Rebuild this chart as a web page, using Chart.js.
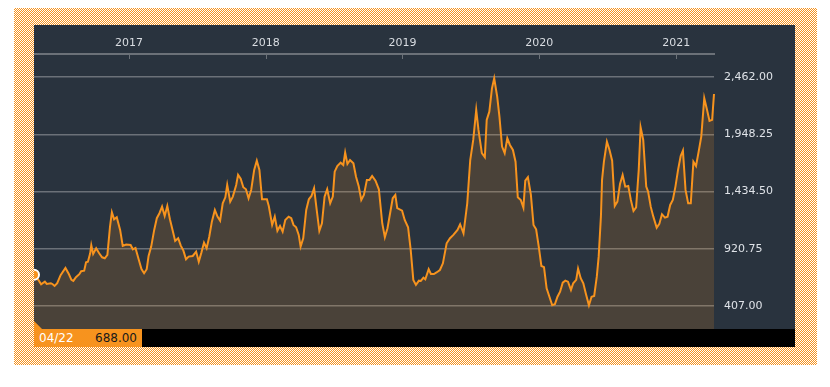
<!DOCTYPE html>
<html>
<head>
<meta charset="utf-8">
<script src="https://cdn.jsdelivr.net/npm/chart.js@4.4.1/dist/chart.umd.min.js"></script>
<style>
  html, body { margin: 0; padding: 0; background: #fff; }
  #frame {
    position: absolute; left: 14px; top: 8px; width: 803px; height: 357px;
    background: repeating-conic-gradient(#f7931e 0 25%, #fff 0 50%) 0 0 / 2px 2px;
  }
  #panel { position: absolute; left: 20px; top: 17px; width: 761px; height: 322px; background: #29333e; }
  #panel canvas { position: absolute; left: 0; top: 0; }
  #corner {
    position: absolute; left: 0; top: 296px; width: 0; height: 0;
    border-left: 8px solid #f7931e; border-top: 8px solid transparent;
  }
  #bar { position: absolute; left: 0; top: 304px; width: 761px; height: 18px; background: #000; }
  #quote {
    position: absolute; left: 0; top: 0; width: 108px; height: 18px; background: #f7931e;
    font: 12px "DejaVu Sans", sans-serif; line-height: 18px;
  }
  #quote .d { position: absolute; left: 5px; color: #fff; }
  #quote .v { position: absolute; right: 5px; color: #1a1a1a; }
</style>
</head>
<body>
<div id="frame">
  <div id="panel">
    <canvas id="chart" width="761" height="304"></canvas>
    <div id="corner"></div>
    <div id="bar"><div id="quote"><span class="d" id="qd"></span><span class="v" id="qv"></span></div></div>
  </div>
</div>
<script>
// weekly closes, days counted from the first quote
const startDate = "2016-04-22";
const days = [0,13,19,29,34,45,50,55,62,71,84,93,100,105,112,121,126,134,139,144,
  150,153,158,166,174,182,189,196,203,208,214,221,230,237,246,258,264,271,280,287,
  294,301,306,313,321,328,335,342,349,356,363,370,377,385,392,399,406,413,424,433,
  440,447,454,461,468,475,483,490,497,504,511,516,524,531,540,545,552,559,566,573,
  580,588,595,602,609,622,627,636,643,650,657,664,671,680,687,693,700,707,712,719,
  727,734,741,748,755,762,769,776,783,791,798,803,810,819,826,831,837,844,853,860,
  867,874,881,889,896,903,912,921,930,937,944,951,958,965,970,983,990,999,1006,1013,
  1020,1028,1033,1040,1045,1054,1060,1068,1076,1084,1092,1102,1111,1120,1131,1138,1147,1157,1165,1173,
  1181,1187,1196,1204,1209,1216,1223,1229,1237,1243,1250,1257,1264,1271,1279,1286,1292,1300,1307,1312,
  1319,1327,1334,1341,1348,1355,1362,1369,1384,1391,1398,1405,1412,1419,1426,1434,1440,1448,1453,1460,
  1467,1474,1482,1489,1496,1503,1508,1514,1517,1522,1530,1537,1544,1551,1558,1565,1572,1579,1587,1594,
  1601,1608,1615,1620,1627,1635,1640,1647,1654,1663,1670,1677,1685,1692,1699,1706,1713,1720,1727,1733,
  1740,1747,1754,1761,1768,1775,1782,1790,1797,1804,1811,1816];
const prices = [688,634,602,625,605,611,602,587,611,683,748,694,641,632,665,692,719,724,800,805,
  880,952,874,925,880,844,835,865,1119,1249,1186,1204,1090,946,958,955,916,928,820,739,
  701,737,856,940,1090,1195,1240,1299,1215,1305,1186,1090,991,1015,949,904,826,850,856,895,
  805,886,976,925,1029,1164,1269,1209,1173,1329,1383,1494,1344,1389,1494,1584,1550,1473,1455,1374,
  1449,1629,1712,1629,1365,1365,1305,1135,1209,1083,1126,1074,1179,1209,1195,1135,1114,1045,940,1015,
  1269,1365,1395,1464,1269,1081,1150,1389,1455,1329,1389,1613,1664,1694,1673,1784,1682,1718,1689,1568,
  1485,1359,1404,1539,1539,1575,1532,1455,1150,1024,1105,1240,1374,1404,1285,1263,1179,1114,910,641,
  596,634,632,661,647,737,694,694,710,730,790,970,1015,1045,1090,1141,1060,1329,1718,1898,
  2167,1988,1779,1743,2078,2152,2362,2452,2287,2107,1838,1779,1913,1853,1808,1703,1383,1359,1290,1532,
  1563,1404,1135,1096,940,766,755,566,413,422,490,535,616,634,625,551,611,641,742,656,
  611,515,413,490,497,670,850,1209,1539,1703,1883,1808,1712,1305,1344,1503,1584,1479,1485,1359,
  1260,1293,1629,2012,1898,1479,1434,1299,1209,1110,1144,1231,1200,1209,1314,1359,1479,1629,1754,1802,
  1449,1329,1329,1703,1664,1793,1928,2273,2174,2069,2078,2311];
const yearTicks = [2017, 2018, 2019, 2020, 2021];
const priceTicks = [407, 920.75, 1434.5, 1948.25, 2462];
const priceMin = 200;
const priceMax = 2670;
const quoteLabel = "04/22";
const quoteValue = 688;

const orange = "#f7931e";
const gridGray = "#6b7178";

const dayOffset = (year) => (Date.UTC(year, 0, 1) - Date.parse(startDate)) / 864e5;
const fmt = (v) => v.toLocaleString("en-US", { minimumFractionDigits: 2, maximumFractionDigits: 2 });

document.getElementById("qd").textContent = quoteLabel;
document.getElementById("qv").textContent = fmt(quoteValue);

Chart.defaults.font.family = "'DejaVu Sans', sans-serif";

// no extra room around the plot: it runs to the canvas edges
const noPad = (s) => {
  s.paddingLeft = 0;
  s.paddingRight = 0;
  s.paddingTop = 0;
  s.paddingBottom = 0;
};

// little tick marks hanging under the top axis line
const yearMarks = {
  id: "yearMarks",
  afterDraw(chart) {
    const { ctx, chartArea, scales } = chart;
    ctx.save();
    ctx.strokeStyle = gridGray;
    ctx.lineWidth = 1;
    scales.x.ticks.forEach((t) => {
      const px = Math.round(scales.x.getPixelForValue(t.value)) + 0.5;
      ctx.beginPath();
      ctx.moveTo(px, chartArea.top);
      ctx.lineTo(px, chartArea.top + 5);
      ctx.stroke();
    });
    ctx.restore();
  },
};

new Chart(document.getElementById("chart").getContext("2d"), {
  type: "line",
  data: {
    datasets: [
      {
        data: days.map((d, i) => ({ x: d, y: prices[i] })),
        borderColor: orange,
        borderWidth: 2,
        backgroundColor: "rgba(247,147,30,0.16)",
        fill: "start",
        tension: 0,
        pointRadius: (c) => (c.dataIndex === 0 ? 5 : 0),
        pointHoverRadius: 0,
        pointBackgroundColor: orange,
        pointBorderColor: "#fff",
        pointBorderWidth: 2,
        clip: false,
      },
    ],
  },
  options: {
    responsive: false,
    animation: false,
    devicePixelRatio: 1,
    layout: { padding: 0, autoPadding: false },
    plugins: { legend: { display: false }, tooltip: { enabled: false } },
    scales: {
      x: {
        type: "linear",
        position: "top",
        min: 0,
        max: days[days.length - 1],
        afterBuildTicks: (s) => {
          s.ticks = yearTicks.map((y) => ({ value: dayOffset(y) }));
        },
        afterFit: (s) => {
          s.height = 29;
          noPad(s);
        },
        ticks: {
          callback: (v, i) => String(yearTicks[i]),
          color: "#d9dde2",
          font: { size: 11 },
          padding: 4,
          maxRotation: 0,
          autoSkip: false,
        },
        grid: { drawOnChartArea: false, drawTicks: false },
        border: { color: gridGray, width: 2 },
      },
      y: {
        position: "right",
        min: priceMin,
        max: priceMax,
        afterBuildTicks: (s) => {
          s.ticks = priceTicks.map((v) => ({ value: v }));
        },
        afterFit: (s) => {
          s.width = 81;
          noPad(s);
        },
        ticks: {
          callback: (v) => fmt(v),
          color: "#dfe3e8",
          font: { size: 11 },
          padding: 10,
        },
        grid: { color: gridGray, lineWidth: 1.5, drawTicks: false },
        border: { display: false },
      },
    },
  },
  plugins: [yearMarks],
});
</script>
</body>
</html>
